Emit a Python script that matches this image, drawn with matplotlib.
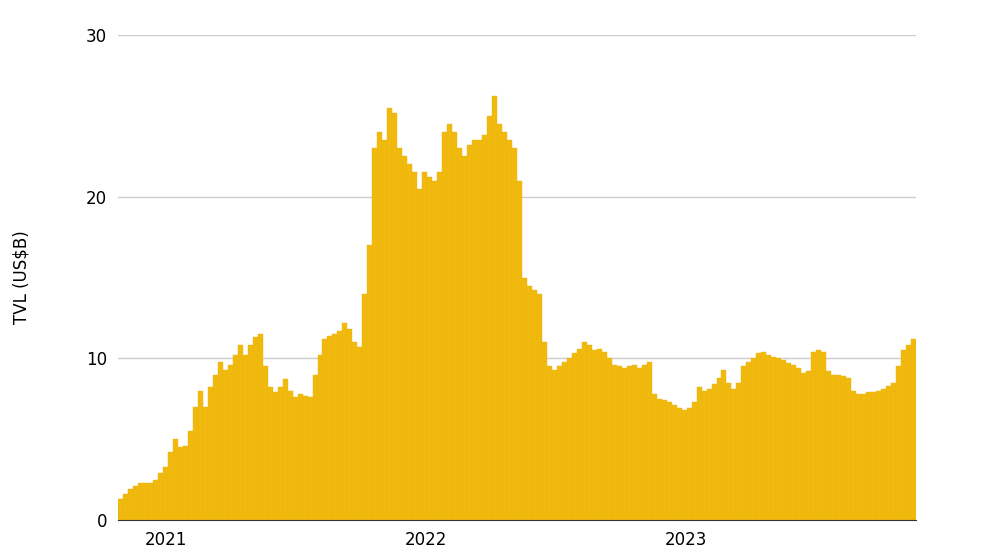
import matplotlib.pyplot as plt
import matplotlib.dates as mdates
import pandas as pd

# weekly TVL (US$B), starting late Oct 2020
start_date = "2020-10-26"
tvl = [
    1.3, 1.6, 1.9, 2.1, 2.3, 2.3, 2.3, 2.5, 2.9, 3.3,
    4.2, 5.0, 4.5, 4.6, 5.5, 7.0, 8.0, 7.0, 8.2, 9.0,
    9.8, 9.3, 9.6, 10.2, 10.8, 10.2, 10.8, 11.3, 11.5, 9.5,
    8.2, 7.9, 8.2, 8.7, 8.0, 7.6, 7.8, 7.7, 7.6, 9.0,
    10.2, 11.2, 11.4, 11.5, 11.7, 12.2, 11.8, 11.0, 10.7, 14.0,
    17.0, 23.0, 24.0, 23.5, 25.5, 25.2, 23.0, 22.5, 22.0, 21.5,
    20.5, 21.5, 21.2, 21.0, 21.5, 24.0, 24.5, 24.0, 23.0, 22.5,
    23.2, 23.5, 23.5, 23.8, 25.0, 26.2, 24.5, 24.0, 23.5, 23.0,
    21.0, 15.0, 14.5, 14.2, 14.0, 11.0, 9.5, 9.3, 9.5, 9.8,
    10.0, 10.3, 10.6, 11.0, 10.8, 10.5, 10.6, 10.4, 10.0, 9.6,
    9.5, 9.4, 9.5, 9.6, 9.4, 9.6, 9.8, 7.8, 7.5, 7.4,
    7.3, 7.1, 6.9, 6.8, 6.9, 7.3, 8.2, 8.0, 8.1, 8.4,
    8.8, 9.3, 8.5, 8.1, 8.5, 9.5, 9.8, 10.0, 10.3, 10.4,
    10.2, 10.1, 10.0, 9.9, 9.7, 9.6, 9.4, 9.1, 9.2, 10.4,
    10.5, 10.4, 9.2, 9.0, 9.0, 8.9, 8.8, 8.0, 7.8, 7.8,
    7.9, 7.9, 8.0, 8.1, 8.3, 8.5, 9.5, 10.5, 10.8, 11.2,
]
year_ticks = ["2021-01-01", "2022-01-01", "2023-01-01"]
year_labels = ["2021", "2022", "2023"]

dates = pd.date_range(start_date, periods=len(tvl), freq="7D")

fig = plt.figure(figsize=(10, 5.6), dpi=100)
ax = fig.add_axes([0.118, 1 - 520 / 560, 0.798, 485 / 560])

ax.bar(dates, tvl, width=7, align="edge", color="#F0B90B", edgecolor="#EBB51A", linewidth=0.3)

ax.set_ylim(0, 30)
ax.set_yticks([0, 10, 20, 30])
ax.set_xlim(dates[0], dates[-1] + pd.Timedelta(days=7))
ax.set_xticks(pd.to_datetime(year_ticks))
ax.set_xticklabels(year_labels)
ax.xaxis.set_major_formatter(mdates.DateFormatter("%Y"))
ax.tick_params(length=0, labelsize=12, pad=8)
ax.set_ylabel("TVL (US$B)", fontsize=12, labelpad=40)

ax.grid(axis="y", color="#CCCCCC", linewidth=1)
ax.set_axisbelow(True)
for s in ["top", "right", "left"]:
    ax.spines[s].set_visible(False)
ax.spines["bottom"].set_color("#333333")
ax.spines["bottom"].set_zorder(5)

fig.savefig("out.png", dpi=100)
